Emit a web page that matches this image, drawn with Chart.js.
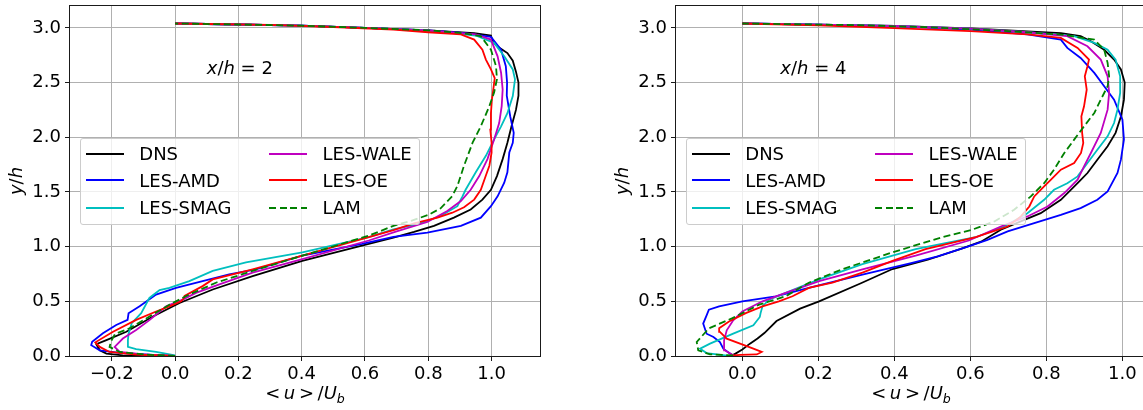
<!DOCTYPE html>
<html>
<head>
<meta charset="utf-8">
<script src="https://cdn.jsdelivr.net/npm/chart.js@4.4.1/dist/chart.umd.min.js"></script>
<style>
  html, body { margin: 0; padding: 0; background: #fff; overflow: hidden; width: 1143px; height: 410px; }
  .panel { position: absolute; top: 0; }
  canvas { display: block; }
  .txt { position: absolute; font-family: 'DejaVu Sans', sans-serif; font-size: 18px; line-height: 18px; color: #000; white-space: nowrap; }
  .txt sub { font-size: 12.6px; vertical-align: -4px; line-height: 0; }
  .ylab { transform: translate(-50%, -50%) rotate(-90deg); }
  .legend { position: absolute; box-sizing: border-box; width: 340px; height: 87px; background: rgba(255,255,255,0.8); border: 1px solid #cccccc; border-radius: 3px; }
  .legend .handle { position: absolute; width: 38px; height: 2px; }
  .legend .label { position: absolute; font-family: 'DejaVu Sans', sans-serif; font-size: 18px; line-height: 18px; white-space: nowrap; }
</style>
</head>
<body>
<div id="left" class="panel" style="left:0px"><canvas id="c2" width="571" height="410"></canvas></div>
<div id="right" class="panel" style="left:571px"><canvas id="c4" width="580" height="410"></canvas></div>

<script>
// Series names and colours (matplotlib k, b, c, m, r, g--)
const names = ['DNS', 'LES-AMD', 'LES-SMAG', 'LES-WALE', 'LES-OE', 'LAM'];
const colors = ['#000000', '#0000ff', '#00bfbf', '#bf00bf', '#ff0000', '#008000'];

// Tick labels
const yTicks = [0, 0.5, 1.0, 1.5, 2.0, 2.5, 3.0];
const xTicks2 = [-0.2, 0, 0.2, 0.4, 0.6, 0.8, 1.0];
const xTicks4 = [0, 0.2, 0.4, 0.6, 0.8, 1.0];

// x/h = 2 : [<u>/Ub, y/h] from wall to top
const dns2 = [[0,0],[-0.165,0.006],[-0.217,0.022],[-0.238,0.052],[-0.249,0.108],[-0.217,0.145],[-0.154,0.222],[-0.07,0.361],[0.014,0.485],[0.119,0.608],[0.245,0.731],[0.402,0.87],[0.612,1.025],[0.69,1.083],[0.755,1.135],[0.818,1.19],[0.881,1.265],[0.934,1.34],[0.971,1.43],[0.998,1.52],[1.017,1.645],[1.035,1.8],[1.05,1.95],[1.063,2.1],[1.077,2.25],[1.085,2.38],[1.085,2.5],[1.077,2.6],[1.067,2.7],[1.05,2.77],[1.019,2.83],[1.003,2.88],[0.998,2.93],[0.945,2.952],[0.8,2.978],[0.6,3.0],[0.4,3.02],[0.2,3.031],[0,3.04]];
const amd2 = [[0,0],[-0.07,0.009],[-0.175,0.028],[-0.238,0.052],[-0.265,0.099],[-0.262,0.13],[-0.228,0.207],[-0.186,0.284],[-0.15,0.33],[-0.147,0.39],[-0.112,0.454],[-0.06,0.562],[0.003,0.623],[0.087,0.685],[0.171,0.747],[0.255,0.793],[0.402,0.917],[0.591,1.025],[0.69,1.09],[0.797,1.128],[0.903,1.189],[0.966,1.265],[0.998,1.37],[1.019,1.46],[1.04,1.585],[1.05,1.68],[1.056,1.86],[1.067,1.95],[1.07,2.04],[1.059,2.19],[1.048,2.38],[1.049,2.5],[1.045,2.65],[1.03,2.8],[0.998,2.918],[0.9,2.957],[0.8,2.978],[0.6,3.0],[0.4,3.02],[0.2,3.031],[0,3.04]];
const smag2 = [[0,0.006],[-0.06,0.037],[-0.123,0.062],[-0.149,0.083],[-0.149,0.145],[-0.147,0.204],[-0.137,0.3],[-0.107,0.392],[-0.081,0.531],[-0.049,0.602],[-0.018,0.623],[0.045,0.685],[0.119,0.778],[0.224,0.855],[0.402,0.948],[0.612,1.086],[0.69,1.158],[0.765,1.204],[0.839,1.28],[0.892,1.37],[0.908,1.46],[0.918,1.52],[0.95,1.68],[0.982,1.83],[1.008,1.98],[1.03,2.1],[1.05,2.22],[1.067,2.376],[1.074,2.53],[1.067,2.62],[1.04,2.74],[1.008,2.863],[0.95,2.93],[0.8,2.978],[0.6,3.0],[0.4,3.02],[0.2,3.031],[0,3.04]];
const wale2 = [[0,0],[-0.102,0.015],[-0.175,0.037],[-0.191,0.083],[-0.165,0.16],[-0.123,0.238],[-0.08,0.33],[-0.028,0.454],[0.024,0.515],[0.066,0.577],[0.14,0.654],[0.245,0.762],[0.402,0.886],[0.612,1.056],[0.7,1.14],[0.797,1.225],[0.86,1.326],[0.903,1.417],[0.934,1.52],[0.961,1.645],[0.987,1.8],[1.008,1.98],[1.024,2.13],[1.032,2.285],[1.035,2.437],[1.03,2.59],[1.019,2.74],[0.998,2.893],[0.95,2.94],[0.8,2.978],[0.6,3.0],[0.4,3.02],[0.2,3.031],[0,3.04]];
const oe2 = [[0,0],[-0.123,0.012],[-0.207,0.037],[-0.238,0.083],[-0.252,0.125],[-0.196,0.222],[-0.123,0.33],[-0.06,0.407],[-0.018,0.454],[0.019,0.5],[0.027,0.525],[0.03,0.55],[0.087,0.639],[0.119,0.7],[0.245,0.793],[0.402,0.917],[0.612,1.086],[0.69,1.15],[0.755,1.213],[0.829,1.265],[0.876,1.31],[0.913,1.36],[0.945,1.43],[0.966,1.52],[0.982,1.65],[0.993,1.74],[1.0,1.86],[1.0,1.95],[0.996,2.07],[0.998,2.22],[1.001,2.345],[1.006,2.45],[1.01,2.54],[0.998,2.62],[0.982,2.71],[0.971,2.8],[0.945,2.893],[0.903,2.94],[0.8,2.96],[0.69,2.985],[0.5,3.008],[0.3,3.027],[0,3.04]];
const lam2 = [[0,0],[-0.091,0.012],[-0.175,0.037],[-0.207,0.083],[-0.203,0.13],[-0.19,0.2],[-0.144,0.253],[-0.081,0.361],[-0.018,0.469],[0.045,0.562],[0.129,0.67],[0.245,0.778],[0.402,0.917],[0.612,1.1],[0.69,1.19],[0.75,1.24],[0.8,1.29],[0.839,1.35],[0.876,1.463],[0.892,1.554],[0.913,1.74],[0.94,1.95],[0.966,2.1],[0.993,2.285],[1.008,2.41],[1.017,2.53],[1.014,2.65],[0.998,2.8],[0.966,2.924],[0.9,2.955],[0.8,2.978],[0.6,3.0],[0.4,3.02],[0.2,3.031],[0,3.04]];

// x/h = 4
const dns4 = [[-0.03,0],[-0.018,0.022],[0.0,0.06],[0.02,0.113],[0.04,0.16],[0.058,0.21],[0.09,0.32],[0.152,0.433],[0.202,0.5],[0.312,0.665],[0.395,0.795],[0.488,0.88],[0.575,0.98],[0.628,1.045],[0.68,1.154],[0.742,1.245],[0.785,1.306],[0.838,1.428],[0.882,1.58],[0.908,1.673],[0.934,1.795],[0.961,1.917],[0.982,2.04],[0.996,2.19],[1.004,2.344],[1.006,2.5],[0.996,2.62],[0.978,2.71],[0.952,2.8],[0.917,2.878],[0.89,2.924],[0.838,2.952],[0.6,2.995],[0.4,3.018],[0.2,3.03],[0,3.04]];
const amd4 = [[-0.02,0],[-0.032,0.021],[-0.05,0.067],[-0.059,0.128],[-0.076,0.174],[-0.094,0.204],[-0.103,0.296],[-0.094,0.372],[-0.088,0.423],[-0.061,0.454],[0,0.5],[0.088,0.546],[0.193,0.639],[0.316,0.745],[0.444,0.85],[0.514,0.91],[0.593,1.0],[0.645,1.062],[0.698,1.139],[0.768,1.215],[0.838,1.291],[0.89,1.352],[0.934,1.428],[0.961,1.505],[0.987,1.673],[0.996,1.795],[1.004,1.98],[1.0,2.16],[0.978,2.344],[0.952,2.466],[0.926,2.588],[0.89,2.725],[0.855,2.817],[0.838,2.893],[0.75,2.94],[0.6,2.985],[0.4,3.015],[0.2,3.03],[0,3.04]];
const smag4 = [[-0.04,0.003],[-0.094,0.027],[-0.111,0.067],[-0.085,0.113],[-0.024,0.204],[0.029,0.28],[0.046,0.357],[0.048,0.392],[0.053,0.454],[0.07,0.515],[0.114,0.577],[0.202,0.7],[0.316,0.84],[0.456,0.978],[0.531,1.03],[0.614,1.086],[0.689,1.184],[0.75,1.306],[0.794,1.428],[0.82,1.52],[0.855,1.58],[0.882,1.642],[0.908,1.764],[0.934,1.886],[0.961,2.008],[0.978,2.13],[0.987,2.252],[0.994,2.405],[0.994,2.557],[0.982,2.71],[0.961,2.8],[0.926,2.863],[0.873,2.924],[0.75,2.96],[0.6,2.993],[0.4,3.017],[0.2,3.03],[0,3.04]];
const wale4 = [[-0.02,0],[-0.028,0.015],[-0.046,0.052],[-0.048,0.143],[-0.041,0.235],[-0.024,0.326],[0,0.407],[0.053,0.5],[0.114,0.577],[0.202,0.685],[0.316,0.793],[0.456,0.917],[0.596,1.056],[0.68,1.184],[0.75,1.276],[0.803,1.367],[0.847,1.49],[0.882,1.612],[0.899,1.734],[0.917,1.856],[0.943,2.039],[0.961,2.252],[0.965,2.405],[0.961,2.557],[0.943,2.71],[0.908,2.832],[0.855,2.924],[0.75,2.96],[0.6,2.993],[0.4,3.017],[0.2,3.03],[0,3.04]];
const oe4 = [[-0.03,0.003],[-0.006,0.01],[0.038,0.014],[0.051,0.037],[0.029,0.067],[-0.006,0.113],[-0.041,0.159],[-0.059,0.22],[-0.061,0.253],[-0.035,0.315],[0.009,0.392],[0.053,0.454],[0.096,0.5],[0.132,0.546],[0.175,0.623],[0.237,0.67],[0.316,0.762],[0.395,0.87],[0.482,0.978],[0.614,1.086],[0.698,1.184],[0.733,1.276],[0.755,1.367],[0.768,1.459],[0.794,1.55],[0.812,1.612],[0.838,1.703],[0.873,1.764],[0.891,1.856],[0.897,1.947],[0.894,2.039],[0.892,2.191],[0.899,2.283],[0.906,2.435],[0.901,2.557],[0.908,2.649],[0.912,2.71],[0.882,2.817],[0.838,2.908],[0.75,2.94],[0.6,2.97],[0.4,2.998],[0.2,3.023],[0,3.04]];
const lam4 = [[-0.024,0.006],[-0.085,0.015],[-0.116,0.052],[-0.12,0.128],[-0.088,0.253],[-0.026,0.346],[0.044,0.469],[0.114,0.546],[0.175,0.67],[0.263,0.793],[0.395,0.948],[0.526,1.086],[0.601,1.15],[0.663,1.23],[0.715,1.337],[0.759,1.459],[0.794,1.58],[0.82,1.703],[0.847,1.856],[0.873,1.978],[0.899,2.1],[0.926,2.222],[0.943,2.344],[0.961,2.466],[0.965,2.557],[0.961,2.68],[0.952,2.8],[0.926,2.893],[0.838,2.939],[0.7,2.97],[0.5,3.005],[0.3,3.025],[0,3.04]];

const FONT = "'DejaVu Sans', sans-serif";

const fmtTick = function (v) {
    const s = Math.abs(v).toFixed(1);
    return v < -1e-9 ? '\u2212' + s : s;
};

// full black box round the plot area, like matplotlib spines
const framePlugin = {
    id: 'frame',
    afterDatasetsDraw(chart) {
        const a = chart.chartArea;
        const ctx = chart.ctx;
        ctx.save();
        ctx.strokeStyle = '#1a1a1a';
        ctx.lineWidth = 1;
        ctx.strokeRect(Math.round(a.left) - 0.5, Math.round(a.top) - 0.5, Math.round(a.right - a.left) + 1, Math.round(a.bottom - a.top) + 1);
        ctx.restore();
    }
};

// keep the axis boxes at fixed sizes and stop chart.js from reserving label overhang
const fixBox = function (size, key) {
    return function (s) {
        s[key] = size;
        s.paddingTop = 0;
        s.paddingBottom = 0;
        s.paddingLeft = 0;
        s.paddingRight = 0;
    };
};

const makeChart = function (canvasId, series, xTicks, xMin, xMax, yAxisWidth, padRight) {
    const datasets = series.map(function (pts, i) {
        return {
            label: names[i],
            data: pts.map(p => ({ x: p[0], y: p[1] })),
            borderColor: colors[i],
            backgroundColor: colors[i],
            borderWidth: 1.8,
            borderDash: i === 5 ? [7, 3.5] : [],
            showLine: true,
            pointRadius: 0,
            fill: false,
            order: -i
        };
    });

    const grid = {
        color: '#b0b0b0',
        lineWidth: 1,
        drawTicks: true,
        tickLength: 5,
        tickColor: '#1a1a1a',
        tickWidth: 1
    };
    const tickFont = { family: FONT, size: 18 };

    return new Chart(document.getElementById(canvasId), {
        type: 'scatter',
        data: { datasets: datasets },
        options: {
            responsive: false,
            animation: false,
            devicePixelRatio: 1,
            layout: { padding: { top: 6, left: 0, right: padRight, bottom: 0 } },
            plugins: { legend: { display: false }, tooltip: { enabled: false } },
            scales: {
                x: {
                    type: 'linear',
                    min: xMin,
                    max: xMax,
                    afterFit: fixBox(54, 'height'),
                    afterBuildTicks: s => { s.ticks = xTicks.map(v => ({ value: v })); },
                    ticks: { font: tickFont, color: '#000', padding: 3, maxRotation: 0, callback: fmtTick },
                    grid: grid,
                    border: { display: false }
                },
                y: {
                    type: 'linear',
                    min: 0,
                    max: 3.2,
                    afterFit: fixBox(yAxisWidth, 'width'),
                    afterBuildTicks: s => { s.ticks = yTicks.map(v => ({ value: v })); },
                    ticks: { font: tickFont, color: '#000', padding: 4, callback: fmtTick },
                    grid: grid,
                    border: { display: false }
                }
            }
        },
        plugins: [framePlugin]
    });
};

// texts: annotation, axis titles, legend
const addTexts = function (panelId, chart, note) {
    const panel = document.getElementById(panelId);
    const a = chart.chartArea;
    const sx = chart.scales.x, sy = chart.scales.y;

    const ann = document.createElement('div');
    ann.className = 'txt';
    ann.innerHTML = '<i>x</i>/<i>h</i> = ' + note;
    ann.style.left = sx.getPixelForValue(0.1) + 'px';
    ann.style.top = (sy.getPixelForValue(2.58) - 15) + 'px';
    panel.appendChild(ann);

    const xl = document.createElement('div');
    xl.className = 'txt';
    xl.innerHTML = '&lt;\u2009<i>u</i>\u2009&gt;\u2009/<i>U</i><sub><i>b</i></sub>';
    xl.style.left = ((a.left + a.right) / 2) + 'px';
    xl.style.top = '384px';
    xl.style.transform = 'translateX(-50%)';
    panel.appendChild(xl);

    const yl = document.createElement('div');
    yl.className = 'txt ylab';
    yl.innerHTML = '<i>y</i>/<i>h</i>';
    yl.style.left = (a.left - 54) + 'px';
    yl.style.top = ((a.top + a.bottom) / 2) + 'px';
    panel.appendChild(yl);

    const lg = document.createElement('div');
    lg.className = 'legend';
    lg.style.left = (a.left + 10) + 'px';
    lg.style.top = ((a.top + a.bottom) / 2 - 43.5) + 'px';
    const rows = [16, 42.7, 70];
    names.forEach(function (n, i) {
        const col = Math.floor(i / 3), row = i % 3;
        const h = document.createElement('div');
        h.className = 'handle';
        h.style.left = (5 + col * 182.6) + 'px';
        h.style.top = (rows[row] - 2) + 'px';
        if (i === 5) {
            h.style.background = 'repeating-linear-gradient(to right, ' + colors[i] + ' 0 7px, transparent 7px 10.5px)';
        } else {
            h.style.background = colors[i];
        }
        lg.appendChild(h);
        const t = document.createElement('div');
        t.className = 'label';
        t.textContent = n;
        t.style.left = (58.3 + col * 183.3) + 'px';
        t.style.top = (rows[row] - 9.7) + 'px';
        lg.appendChild(t);
    });
    panel.appendChild(lg);
};

const chart2 = makeChart('c2', [dns2, amd2, smag2, wale2, oe2, lam2], xTicks2, -0.332, 1.153, 70, 31);
const chart4 = makeChart('c4', [dns4, amd4, smag4, wale4, oe4, lam4], xTicks4, -0.1745, 1.062, 105, 5);
addTexts('left', chart2, '2');
addTexts('right', chart4, '4');
</script>
</body>
</html>
